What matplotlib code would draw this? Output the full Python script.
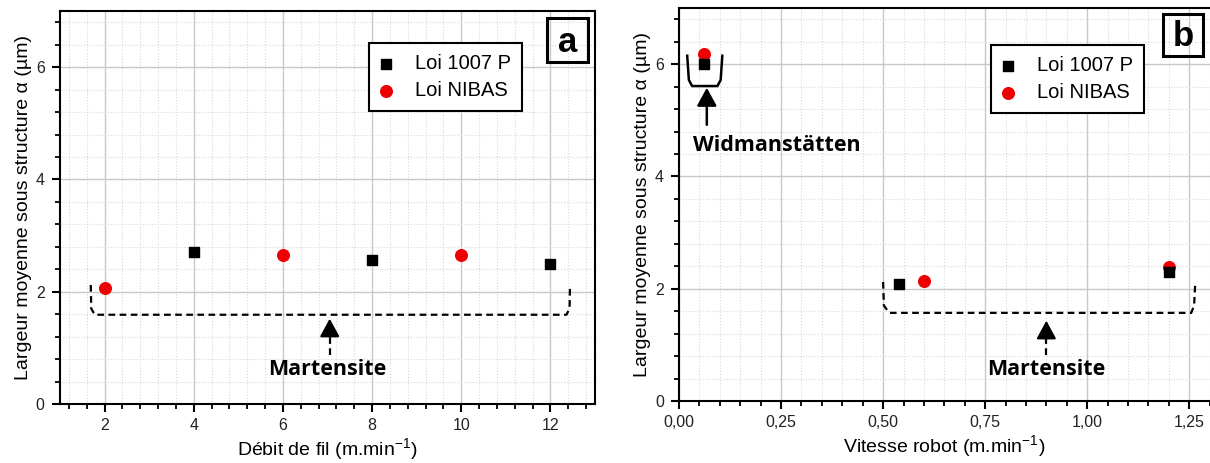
import matplotlib
matplotlib.use('Agg')
import matplotlib.pyplot as plt
from matplotlib.ticker import MultipleLocator, AutoMinorLocator, FuncFormatter
from matplotlib.patches import Rectangle

plt.rcParams['font.family'] = ['Liberation Sans', 'DejaVu Sans']
plt.rcParams['mathtext.fontset'] = 'custom'
plt.rcParams['mathtext.rm'] = 'Liberation Sans'
plt.rcParams['mathtext.it'] = 'Liberation Sans:italic'

# panel a : debit de fil
debit_1007 = [4, 8, 12]
larg_1007_a = [2.71, 2.57, 2.49]
debit_nibas = [2, 6, 10]
larg_nibas_a = [2.06, 2.66, 2.66]

# panel b : vitesse robot
vit_1007 = [0.06, 0.54, 1.20]
larg_1007_b = [6.00, 2.08, 2.29]
vit_nibas = [0.06, 0.60, 1.20]
larg_nibas_b = [6.18, 2.13, 2.38]

ylab = 'Largeur moyenne sous structure α (µm)'
bold_font = 'Open Sans'


def style_axes(ax):
    for s in ax.spines.values():
        s.set_linewidth(1.5)
    ax.yaxis.set_major_locator(MultipleLocator(2))
    ax.yaxis.set_minor_locator(AutoMinorLocator(5))
    ax.xaxis.set_minor_locator(AutoMinorLocator(5))
    ax.set_ylim(0, 7)
    ax.tick_params(which='major', direction='out', length=6, width=1.5,
                   labelsize=11.5, labelcolor='#222222', pad=4)
    ax.tick_params(axis='y', which='major', pad=5)
    ax.tick_params(which='minor', direction='out', length=3.5, width=1.3)
    ax.grid(which='major', color='#c8c8c8', lw=1.0)
    ax.grid(which='minor', color='#d8d8d8', lw=0.8, ls=':')
    ax.set_axisbelow(True)
    ax.set_ylabel(ylab, fontsize=14, labelpad=3)


def add_letter(ax, x0, y0, x1, y1, letter):
    ax.add_patch(Rectangle((x0, y0), x1 - x0, y1 - y0, transform=ax.transAxes,
                           fill=False, ec='black', lw=2.2, zorder=5))
    ax.text((x0 + x1) / 2, (y0 + y1) / 2 - 0.005, letter, transform=ax.transAxes,
            ha='center', va='center', fontsize=25, fontweight='bold', zorder=5)


def dashed_arrow(ax, x, y0, y1):
    ax.plot([x, x], [y0, y1 - 0.15], color='black', lw=1.6, ls=(0, (3, 2)))
    ax.annotate('', xy=(x, y1), xytext=(x, y1 - 0.2),
                arrowprops=dict(arrowstyle='-|>,head_length=0.55,head_width=0.3',
                                mutation_scale=20, color='black', lw=1.6,
                                shrinkA=0, shrinkB=0))


def make_legend(ax, anchor):
    leg = ax.legend(loc='upper left', bbox_to_anchor=anchor, fontsize=14.5,
                    frameon=True, fancybox=False, edgecolor='black',
                    handletextpad=1.1, handlelength=0.6, borderpad=0.55,
                    labelspacing=0.4, borderaxespad=0, framealpha=1)
    leg.get_frame().set_linewidth(1.5)
    return leg


fig = plt.figure(figsize=(12.10, 4.63), dpi=100)
ax1 = fig.add_axes([0.0496, 0.1274, 0.4421, 0.8488])
ax2 = fig.add_axes([0.5612, 0.1339, 0.4388, 0.8488])

# ---- panel a
style_axes(ax1)
ax1.scatter(debit_1007, larg_1007_a, marker='s', s=55, color='black', label='Loi 1007 P', zorder=4)
ax1.scatter(debit_nibas, larg_nibas_a, marker='o', s=70, color='#ee0000', label='Loi NIBAS', zorder=4)
ax1.set_xlim(1, 13)
ax1.xaxis.set_major_locator(MultipleLocator(2))
ax1.set_xlabel('Débit de fil (m.min$^{-1}$)', fontsize=14, labelpad=2)

ax1.plot([1.69, 1.70, 1.78, 12.36, 12.43, 12.44], [2.12, 1.70, 1.59, 1.59, 1.70, 2.12],
         color='black', lw=1.6, ls=(0, (3, 2)))
dashed_arrow(ax1, 7.05, 0.87, 1.52)
ax1.text(7.0, 0.62, 'Martensite', ha='center', va='center', fontsize=15.5,
         fontweight='bold', family=bold_font)

make_legend(ax1, (0.578, 0.919))
add_letter(ax1, 0.910, 0.870, 0.987, 0.982, 'a')

# ---- panel b
style_axes(ax2)
ax2.spines['right'].set_visible(False)
ax2.scatter(vit_1007, larg_1007_b, marker='s', s=55, color='black', label='Loi 1007 P', zorder=4)
ax2.scatter(vit_nibas, larg_nibas_b, marker='o', s=70, color='#ee0000', label='Loi NIBAS', zorder=3)
ax2.set_xlim(0, 1.301)
ax2.xaxis.set_major_locator(MultipleLocator(0.25))
ax2.xaxis.set_major_formatter(FuncFormatter(lambda v, p: f'{v:.2f}'.replace('.', ',')))
ax2.set_xlabel('Vitesse robot (m.min$^{-1}$)', fontsize=14, labelpad=2)

ax2.plot([0.020, 0.024, 0.032, 0.094, 0.102, 0.106], [6.15, 5.72, 5.61, 5.61, 5.72, 6.15],
         color='black', lw=1.8)
ax2.annotate('', xy=(0.068, 5.58), xytext=(0.068, 4.92),
             arrowprops=dict(arrowstyle='-|>,head_length=0.55,head_width=0.3',
                             mutation_scale=20, color='black', lw=1.8,
                             shrinkA=0, shrinkB=0))
ax2.text(0.24, 4.55, 'Widmanstätten', ha='center', va='center', fontsize=15.5,
         fontweight='bold', family=bold_font)

ax2.plot([0.500, 0.502, 0.515, 1.255, 1.262, 1.265], [2.12, 1.70, 1.57, 1.57, 1.70, 2.12],
         color='black', lw=1.6, ls=(0, (3, 2)))
dashed_arrow(ax2, 0.90, 0.82, 1.43)
ax2.text(0.90, 0.57, 'Martensite', ha='center', va='center', fontsize=15.5,
         fontweight='bold', family=bold_font)

make_legend(ax2, (0.588, 0.906))
add_letter(ax2, 0.911, 0.878, 0.987, 0.985, 'b')

plt.savefig('out.png', dpi=100)
